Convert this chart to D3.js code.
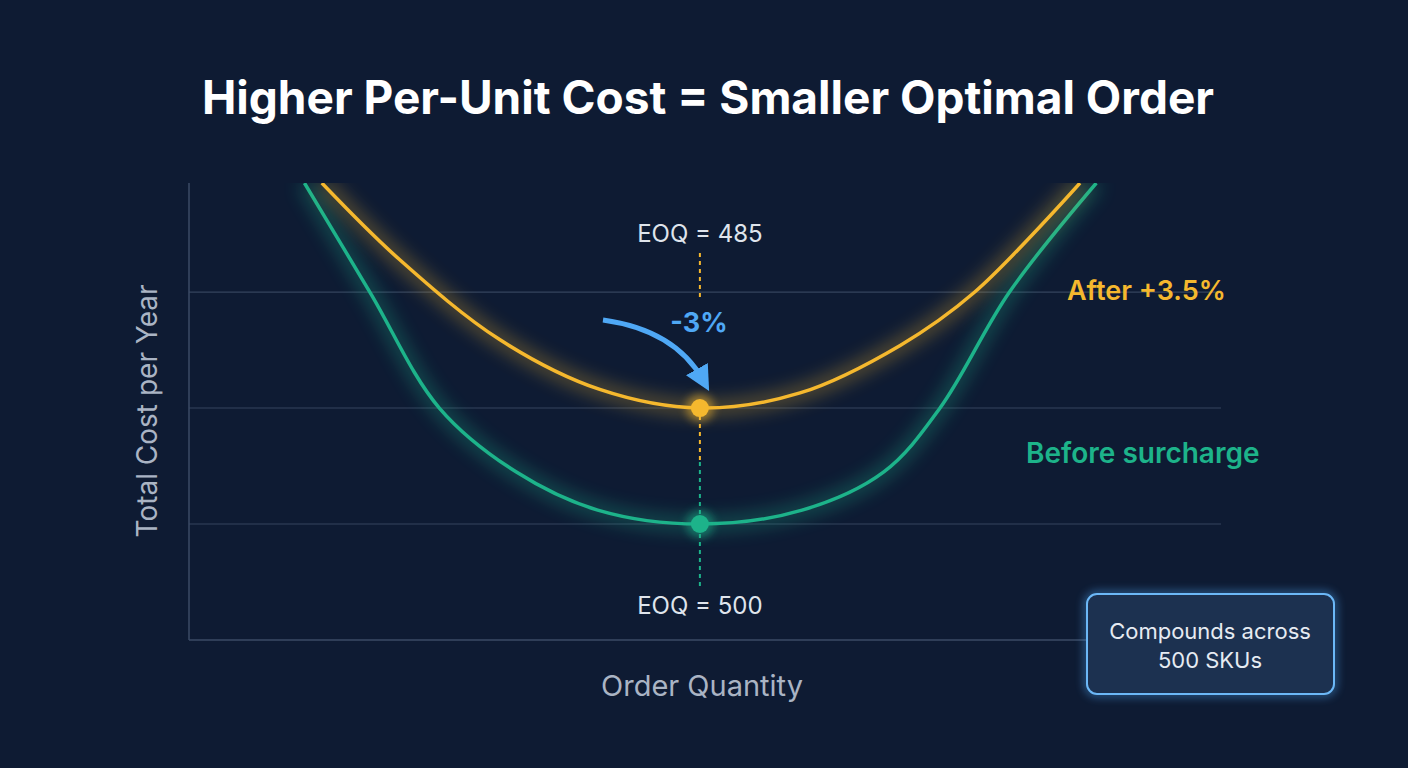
<!DOCTYPE html>
<html><head><meta charset="utf-8">
<script src="https://cdn.jsdelivr.net/npm/d3@7"></script>
<style>body{margin:0;background:#0e1b33;}svg{display:block;font-family:Inter,"Noto Sans",sans-serif;}</style>
</head><body>
<script>
// order quantity vs total cost (index units)
var beforeQty  = [113, 177, 245, 320, 400, 500, 600, 680, 735, 803, 888];
var beforeCost = [3.94, 3.0, 2.0, 1.45, 1.12, 1.0, 1.12, 1.45, 2.0, 3.0, 3.94];
var afterQty   = [130, 206, 304, 402, 500, 598, 696, 769, 872];
var afterCost  = [3.94, 3.28, 2.59, 2.16, 2.0, 2.13, 2.54, 3.0, 3.94];
var gridTicks = [1, 2, 3];
var eoq = 500;

var W = 1408, H = 768;
var svg = d3.select("body").append("svg").attr("width", W).attr("height", H);
svg.append("rect").attr("width", W).attr("height", H).attr("fill", "#0e1b33");

var defs = svg.append("defs");
var f = defs.append("filter").attr("id", "glow").attr("x", "-20%").attr("y", "-20%").attr("width", "140%").attr("height", "140%");
f.append("feGaussianBlur").attr("stdDeviation", 9);
var f2 = defs.append("filter").attr("id", "soft").attr("x", "-50%").attr("y", "-50%").attr("width", "200%").attr("height", "200%");
f2.append("feGaussianBlur").attr("stdDeviation", 4);
defs.append("clipPath").attr("id", "plot").append("rect").attr("x", 189).attr("y", 183).attr("width", 1032).attr("height", 457);
defs.append("marker").attr("id", "ah").attr("viewBox", "0 0 10 10").attr("refX", 5).attr("refY", 5)
	.attr("markerWidth", 5).attr("markerHeight", 5).attr("orient", "auto")
	.append("path").attr("d", "M0,0L10,5L0,10z").attr("fill", "#4fa8f5");

var x = d3.scaleLinear().domain([0, 1010]).range([189, 1221]);
var y = d3.scaleLinear().domain([0, 3.94]).range([640, 183]);

svg.append("text").attr("x", 708).attr("y", 114).attr("text-anchor", "middle")
	.attr("fill", "#fff").attr("font-size", 46).attr("font-weight", 700).text("Higher Per-Unit Cost = Smaller Optimal Order");

// grid
svg.selectAll(".grid").data(gridTicks).enter().append("line")
	.attr("x1", 189).attr("x2", 1221).attr("y1", d => y(d)).attr("y2", d => y(d))
	.attr("stroke", "#34445e").attr("stroke-width", 1.2);
svg.append("line").attr("x1", 189).attr("x2", 1221).attr("y1", 640).attr("y2", 640).attr("stroke", "#3b4b66").attr("stroke-width", 1.5);
svg.append("line").attr("x1", 189).attr("x2", 189).attr("y1", 183).attr("y2", 640).attr("stroke", "#3b4b66").attr("stroke-width", 1.5);

svg.append("text").attr("transform", "translate(157,411) rotate(-90)").attr("text-anchor", "middle")
	.attr("fill", "#aab4c4").attr("font-size", 28).text("Total Cost per Year");
svg.append("text").attr("x", 702).attr("y", 696).attr("text-anchor", "middle")
	.attr("fill", "#aab4c4").attr("font-size", 29).text("Order Quantity");

var line = d3.line().x(d => x(d[0])).y(d => y(d[1])).curve(d3.curveCatmullRom);
var before = d3.zip(beforeQty, beforeCost), after = d3.zip(afterQty, afterCost);
var g = svg.append("g").attr("clip-path", "url(#plot)");
[[before, "#1db38a"], [after, "#f5b82e"]].forEach(function(s){
	g.append("path").attr("d", line(s[0])).attr("fill", "none").attr("stroke", s[1])
		.attr("stroke-width", 14).attr("opacity", 0.35).attr("filter", "url(#glow)");
	g.append("path").attr("d", line(s[0])).attr("fill", "none").attr("stroke", s[1]).attr("stroke-width", 3.5);
});

// EOQ markers
var ex = x(eoq);
svg.append("line").attr("x1", ex).attr("x2", ex).attr("y1", 253).attr("y2", 298).attr("stroke", "#f5b82e").attr("stroke-width", 2).attr("stroke-dasharray", "4,4");
svg.append("line").attr("x1", ex).attr("x2", ex).attr("y1", y(2)).attr("y2", 462).attr("stroke", "#f5b82e").attr("stroke-width", 2).attr("stroke-dasharray", "4,4");
svg.append("line").attr("x1", ex).attr("x2", ex).attr("y1", 462).attr("y2", 588).attr("stroke", "#1db38a").attr("stroke-width", 2).attr("stroke-dasharray", "4,4");
[[2, "#f5b82e"], [1, "#1db38a"]].forEach(function(p){
	svg.append("circle").attr("cx", ex).attr("cy", y(p[0])).attr("r", 14).attr("fill", p[1]).attr("opacity", 0.5).attr("filter", "url(#soft)");
	svg.append("circle").attr("cx", ex).attr("cy", y(p[0])).attr("r", 9).attr("fill", p[1]);
});
svg.append("text").attr("x", ex).attr("y", 242).attr("text-anchor", "middle").attr("fill", "#dfe4ec").attr("font-size", 24).text("EOQ = 485");
svg.append("text").attr("x", ex).attr("y", 614).attr("text-anchor", "middle").attr("fill", "#dfe4ec").attr("font-size", 24).text("EOQ = 500");

// arrow
svg.append("path").attr("d", "M603,320 Q675,330 703,380").attr("fill", "none").attr("stroke", "#4fa8f5")
	.attr("stroke-width", 5).attr("marker-end", "url(#ah)");
svg.append("text").attr("x", 699).attr("y", 332).attr("text-anchor", "middle").attr("fill", "#4fa8f5")
	.attr("font-size", 27).attr("font-weight", 700).text("-3%");

svg.append("text").attr("x", 1067).attr("y", 300).attr("fill", "#f5b82e").attr("font-size", 27).attr("font-weight", 600).text("After +3.5%");
svg.append("text").attr("x", 1026).attr("y", 463).attr("fill", "#1db38a").attr("font-size", 28).attr("font-weight", 600).text("Before surcharge");

// note box
svg.append("rect").attr("x", 1087).attr("y", 594).attr("width", 247).attr("height", 100).attr("rx", 10)
	.attr("fill", "none").attr("stroke", "#4fa8f5").attr("stroke-width", 6).attr("opacity", 0.5).attr("filter", "url(#soft)");
svg.append("rect").attr("x", 1087).attr("y", 594).attr("width", 247).attr("height", 100).attr("rx", 10)
	.attr("fill", "#1c3150").attr("stroke", "#6cb8f7").attr("stroke-width", 2);
svg.append("text").attr("x", 1210).attr("y", 639).attr("text-anchor", "middle").attr("fill", "#e6ebf2").attr("font-size", 22).text("Compounds across");
svg.append("text").attr("x", 1210).attr("y", 668).attr("text-anchor", "middle").attr("fill", "#e6ebf2").attr("font-size", 22).text("500 SKUs");
</script>
</body></html>
